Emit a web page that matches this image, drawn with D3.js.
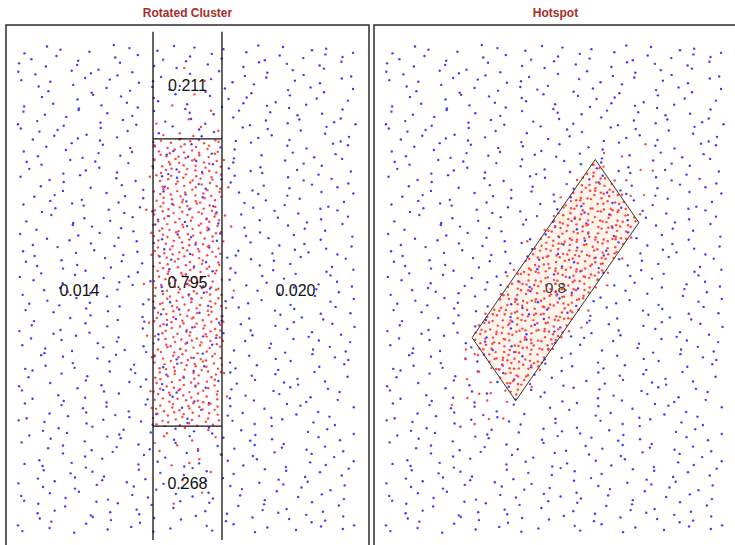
<!DOCTYPE html>
<html>
<head>
<meta charset="utf-8">
<script src="https://cdn.jsdelivr.net/npm/d3@7"></script>
<style>
body { margin: 0; background: #fff; }
</style>
</head>
<body>
<script>
const svgWidth = 735;
const svgHeight = 545;

const panelTitles = ['Rotated Cluster', 'Hotspot'];

// background points (x, y pairs, 0-1000 units), the same in both panels
const bluePoints = [
33,47, 45,36, 93,60, 120,42, 125,54, 188,33, 221,50, 239,63, 280,39, 289,57, 345,44, 369,52, 406,35, 408,61, 453,41, 482,58, 553,46, 568,37, 606,55, 627,49, 679,62, 686,34, 720,43, 780,59, 799,38, 842,53, 868,45, 879,56, 928,40, 959,47,
50,94, 87,70, 89,88, 134,75, 163,83, 234,66, 249,92, 287,72, 308,89, 360,77, 367,68, 401,86, 461,80, 480,93, 523,65, 549,74, 560,90, 609,69, 640,84, 707,76, 711,87, 750,71, 773,78, 827,67, 843,91, 873,73, 917,85, 929,64,
42,103, 102,120, 121,108, 164,99, 190,117, 201,111, 250,124, 281,96, 348,105, 352,121, 391,100, 414,115, 468,107, 484,118, 514,102, 558,109, 570,98, 618,122, 645,104, 650,116, 713,95, 746,112, 764,125, 805,101, 814,119, 870,106, 894,114, 931,97, 933,123,
34,127, 88,136, 104,152, 134,131, 178,146, 190,138, 238,149, 265,133, 270,140, 333,129, 366,153, 384,135, 425,147, 434,126, 490,143, 514,156, 551,132, 553,150, 598,137, 627,145, 698,128, 713,154, 751,134, 772,151, 824,139, 831,130, 865,148, 925,142, 944,155,
51,164, 92,171, 101,160, 157,184, 181,166, 218,178, 220,157, 265,174, 294,187, 365,163, 380,181, 418,168, 439,176, 491,159, 498,185, 532,165, 592,182, 611,170, 654,161, 680,179, 691,173, 740,186, 771,158, 838,167, 842,183, 881,162, 904,177, 958,169,
43,205, 64,218, 116,194, 123,212, 157,199, 217,207, 236,190, 279,216, 305,196, 316,213, 365,201, 396,192, 463,210, 467,204, 506,217, 529,189, 583,198, 599,214, 629,193, 673,208, 685,200, 733,211, 760,195, 765,202, 828,191, 861,215, 879,197, 920,209, 929,188,
35,247, 102,227, 106,244, 145,232, 168,223, 222,241, 238,235, 268,248, 312,220, 324,229, 372,245, 399,224, 404,239, 467,231, 500,242, 518,226, 559,233, 568,222, 624,246, 648,228, 685,240, 687,219, 732,236, 761,249, 832,225, 847,243, 885,230, 906,238, 958,221,
52,279, 57,251, 120,260, 153,276, 171,255, 212,270, 221,262, 277,273, 301,257, 338,264, 340,253, 385,277, 414,259, 485,271, 500,250, 538,267, 559,280, 611,256, 618,274, 652,261, 712,269, 731,252, 774,278, 800,258, 811,275, 860,263, 891,254, 958,272,
44,304, 73,288, 144,295, 159,284, 197,308, 218,290, 270,302, 277,281, 311,298, 371,311, 390,287, 433,305, 459,292, 470,300, 519,283, 550,309, 617,289, 621,306, 660,294, 683,285, 737,303, 753,297, 783,310, 827,282, 839,291, 887,307, 914,286, 919,301,
36,312, 62,329, 73,342, 122,318, 153,336, 220,323, 224,331, 263,314, 286,340, 340,320, 356,337, 386,325, 430,316, 442,334, 490,328, 517,341, 522,313, 585,322, 618,338, 636,317, 677,332, 686,324, 742,335, 766,319, 803,326, 805,315, 850,339, 879,321, 941,330,
53,345, 97,371, 109,351, 157,368, 184,356, 189,347, 252,365, 285,359, 303,372, 344,344, 353,353, 409,369, 433,348, 470,363, 472,355, 517,366, 546,350, 617,357, 632,346, 670,370, 691,352, 743,364, 750,343, 784,360, 844,373, 863,349, 906,367, 932,354, 943,362,
45,390, 69,403, 106,375, 108,384, 153,400, 182,379, 253,394, 268,386, 306,397, 327,381, 379,388, 386,377, 420,401, 480,383, 499,395, 542,374, 568,391, 579,404, 628,380, 659,398, 726,385, 730,393, 769,376, 792,402, 846,382, 862,399, 892,387, 936,378, 948,396,
37,417, 71,428, 131,412, 150,419, 193,408, 219,432, 230,414, 279,426, 310,405, 377,422, 381,435, 420,411, 443,429, 497,416, 513,424, 543,407, 587,433, 599,413, 647,430, 674,418, 679,409, 742,427, 775,421, 793,434, 834,406, 843,415, 899,431, 923,410, 960,425,
54,457, 77,436, 131,453, 147,466, 177,442, 221,460, 233,447, 281,455, 308,438, 313,464, 376,444, 409,461, 427,449, 468,440, 477,458, 533,452, 557,465, 594,437, 596,446, 641,462, 670,441, 741,456, 756,448, 794,459, 815,443, 867,450, 874,439, 908,463, 949,451,
46,486, 64,469, 105,495, 114,475, 170,492, 194,480, 231,471, 233,489, 278,483, 307,496, 378,468, 393,477, 431,493, 452,472, 504,487, 511,479, 545,490, 605,474, 624,481, 667,470, 693,494, 704,476, 753,488, 784,467, 851,484, 855,497, 894,473, 917,491, 958,478,
38,520, 76,514, 97,527, 149,499, 156,508, 190,524, 250,503, 269,518, 312,510, 338,521, 349,505, 398,512, 429,501, 496,525, 500,507, 539,519, 562,498, 616,515, 632,528, 662,504, 706,522, 718,509, 766,517, 793,500, 798,526, 861,506, 894,523, 912,511, 953,502,
55,549, 86,541, 153,552, 157,536, 196,543, 219,532, 273,556, 289,538, 319,550, 363,529, 375,546, 423,559, 450,535, 455,553, 518,540, 551,548, 569,531, 610,557, 619,537, 675,554, 699,542, 736,533, 738,551, 783,545, 812,558, 883,530, 898,539, 936,555, 957,534,
47,569, 74,581, 79,560, 142,577, 175,590, 193,566, 234,584, 243,571, 299,579, 323,562, 360,588, 362,568, 407,585, 436,573, 507,564, 522,582, 560,576, 581,589, 633,561, 640,570, 674,586, 734,565, 753,580, 796,572, 822,583, 833,567, 882,574, 913,563, 952,578,
39,602, 84,610, 113,593, 184,619, 199,599, 237,616, 258,604, 310,595, 317,613, 351,607, 411,620, 430,592, 473,601, 499,617, 510,596, 559,611, 590,603, 657,614, 661,598, 700,605, 723,594, 777,618, 793,600, 823,612, 867,591, 879,608, 927,621, 954,597,
56,626, 99,644, 125,638, 136,651, 185,623, 216,632, 283,648, 287,627, 326,642, 349,634, 403,645, 419,629, 449,636, 493,625, 505,649, 553,631, 580,643, 585,622, 648,639, 681,652, 699,628, 740,646, 749,633, 805,641, 829,624, 866,650, 868,630, 913,647, 942,635,
48,658, 78,673, 122,665, 134,676, 182,660, 209,667, 214,656, 277,680, 310,662, 328,674, 369,653, 378,670, 434,683, 458,659, 495,677, 497,664, 542,672, 571,655, 642,681, 657,661, 695,678, 716,666, 768,657, 775,675, 809,669, 869,682, 888,654, 931,663, 957,679,
40,711, 96,693, 120,705, 157,684, 159,701, 204,714, 233,690, 304,708, 319,695, 357,703, 378,686, 430,712, 437,692, 471,709, 531,697, 550,688, 593,706, 619,700, 630,713, 679,685, 710,694, 777,710, 781,689, 820,704, 843,696, 897,707, 913,691, 943,698,
57,739, 64,726, 98,734, 158,717, 177,743, 220,723, 246,740, 257,728, 306,719, 337,737, 404,731, 408,744, 447,716, 470,725, 524,741, 540,720, 570,735, 614,727, 626,738, 674,722, 701,729, 706,718, 769,742, 802,724, 820,736, 861,715, 870,732, 926,745, 950,721,
49,759, 88,750, 111,768, 165,762, 181,775, 211,747, 255,756, 267,772, 315,751, 342,766, 347,758, 410,769, 443,753, 461,760, 502,749, 511,773, 567,755, 591,767, 628,746, 630,763, 675,776, 704,752, 775,770, 790,757, 828,765, 849,748, 901,774, 908,754, 942,771,
41,803, 74,782, 92,797, 133,789, 142,800, 198,784, 222,791, 259,780, 261,804, 306,786, 335,798, 406,777, 421,794, 459,807, 480,783, 532,801, 539,788, 573,796, 633,779, 652,805, 695,785, 721,802, 732,790, 781,781, 812,799, 879,793, 883,806, 922,778, 945,787,
33,811, 48,835, 86,817, 107,829, 159,808, 166,825, 200,838, 260,814, 279,832, 322,819, 348,827, 359,810, 408,836, 439,816, 506,833, 510,821, 549,812, 572,830, 626,824, 642,837, 672,809, 716,818, 728,834, 776,813, 803,828, 808,820, 871,831, 904,815, 922,822, 963,811,
50,845, 99,863, 130,850, 197,858, 201,841, 240,867, 263,847, 317,864, 333,852, 363,843, 407,861, 419,855, 467,868, 494,840, 499,849, 562,865, 595,844, 613,859, 654,851, 663,862, 719,846, 743,853, 780,842, 782,866, 827,848, 856,860, 927,839, 942,856,
42,895, 90,883, 117,874, 122,892, 185,886, 218,899, 236,871, 277,880, 286,896, 342,875, 366,890, 403,882, 405,893, 450,877, 479,884, 550,873, 565,897, 603,879, 624,891, 676,870, 683,887, 717,900, 777,876, 796,894, 839,881, 865,889, 876,872, 925,898, 956,878,
34,911, 36,927, 81,906, 110,921, 181,913, 196,924, 234,908, 255,915, 307,904, 314,928, 348,910, 408,922, 427,901, 470,918, 496,931, 507,907, 556,925, 587,912, 654,920, 658,903, 697,929, 720,909, 774,926, 790,914, 820,905, 864,923, 876,917, 924,930, 951,902,
51,946, 70,935, 113,959, 139,941, 150,953, 199,932, 230,949, 297,962, 301,938, 340,956, 363,943, 417,951, 433,934, 463,960, 507,940, 519,957, 567,945, 594,936, 599,954, 662,948, 695,961, 713,933, 754,942, 763,958, 819,937, 843,952, 880,944, 882,955, 927,939, 956,947
];

// cluster points in the cluster's own frame: s along the box, t across; 200-800 is inside the box
const clusterPoints = [
217,200, 204,231, 226,239, 211,283, 200,302, 222,329, 208,332, 229,384, 214,398, 202,434, 219,456, 225,467, 206,514, 213,539, 228,545, 201,584, 221,601, 209,659, 216,679, 227,688, 203,721, 224,762, 212,774,
255,213, 236,227, 243,263, 258,285, 231,296, 251,343, 239,368, 246,374, 257,413, 233,430, 254,488, 242,508, 237,517, 248,550, 253,591, 240,603, 235,631, 250,636, 245,685, 247,701, 234,736, 256,760, 241,762,
272,206, 267,245, 278,262, 283,320, 270,340, 265,349, 280,382, 275,423, 277,435, 264,463, 286,468, 271,517, 260,533, 282,568, 268,592, 289,594, 274,637, 262,667, 279,680, 285,735, 266,756, 273,763,
301,219, 290,231, 312,259, 298,264, 319,313, 304,329, 292,364, 309,388, 315,390, 296,433, 303,463, 318,476, 291,531, 311,552, 299,559, 306,597, 317,623, 293,669, 314,679, 302,708, 297,739, 308,747, 313,791,
333,212, 348,214, 321,257, 341,287, 329,300, 336,355, 347,376, 323,383, 344,421, 332,447, 327,493, 338,503, 343,532, 330,563, 325,571, 340,615, 335,634, 337,661, 324,664, 346,716, 331,730, 320,766, 342,788, 328,799,
373,205, 360,243, 355,269, 370,315, 365,325, 367,354, 354,385, 376,393, 361,437, 350,456, 372,483, 358,486, 379,538, 364,552, 352,588, 369,610, 375,621, 356,668, 363,693, 378,699, 351,738, 371,755, 366,784,
388,218, 409,262, 394,281, 382,308, 399,311, 405,363, 386,377, 393,413, 408,435, 381,446, 401,493, 389,518, 396,524, 407,563, 383,580, 404,638, 392,658, 387,667, 398,700, 403,741, 390,753, 385,781, 400,786,
419,211, 426,233, 437,244, 413,291, 434,316, 422,322, 417,361, 428,378, 433,436, 420,456, 415,465, 430,498, 425,539, 427,551, 414,579, 436,584, 421,633, 410,649, 432,684, 418,708, 439,710, 424,753, 412,783, 429,796,
460,204, 455,262, 457,282, 444,291, 466,324, 451,365, 440,377, 462,405, 448,410, 469,459, 454,475, 442,510, 459,534, 465,536, 446,579, 453,609, 468,622, 441,677, 461,698, 449,705, 456,743, 467,769, 451,792,
472,217, 489,222, 495,271, 476,287, 483,322, 498,346, 471,348, 491,391, 479,421, 486,434, 497,489, 473,510, 494,517, 482,555, 477,581, 488,627, 493,637, 480,666, 475,697, 490,705, 485,749, 487,768, 474,795,
503,210, 524,240, 512,253, 507,308, 518,329, 523,336, 510,374, 505,400, 520,446, 515,456, 517,485, 504,516, 526,524, 511,568, 500,587, 522,614, 508,617, 529,669, 514,683, 502,719, 519,741, 525,752, 506,799,
534,203, 556,249, 541,259, 530,288, 552,319, 538,327, 559,371, 544,390, 532,417, 549,420, 555,472, 536,486, 543,522, 558,544, 531,555, 551,602, 539,627, 546,633, 557,672, 533,689, 554,747, 542,767, 537,776,
566,216, 573,243, 588,246, 561,298, 581,312, 569,348, 576,370, 587,381, 563,428, 584,453, 572,459, 567,498, 578,515, 583,573, 570,593, 565,602, 580,635, 575,676, 577,688, 564,716, 586,721, 571,770, 560,786,
597,209, 608,256, 613,281, 600,287, 595,326, 610,343, 605,401, 607,421, 594,430, 616,463, 601,504, 590,516, 612,544, 598,549, 619,598, 604,614, 592,649, 609,673, 615,675, 596,718, 603,748, 618,761, 605,792,
620,202, 642,211, 628,244, 649,285, 634,297, 622,325, 639,330, 645,379, 626,395, 633,430, 648,454, 621,456, 641,499, 629,529, 636,542, 647,597, 623,618, 644,625, 632,663, 627,689, 638,735, 643,745, 630,774,
651,215, 671,231, 659,266, 666,290, 677,292, 653,335, 674,365, 662,378, 657,433, 668,454, 673,461, 660,499, 655,525, 670,571, 665,581, 667,610, 654,641, 676,649, 661,693, 650,712, 672,739, 658,742, 679,794,
690,208, 685,263, 700,284, 695,291, 697,329, 684,355, 706,401, 691,411, 680,440, 702,471, 688,479, 709,523, 694,542, 682,569, 699,572, 705,624, 686,638, 693,674, 708,696, 681,707, 701,754, 689,779, 696,785,
739,201, 724,230, 712,261, 729,269, 735,313, 716,332, 723,359, 738,362, 711,414, 731,428, 719,464, 726,486, 737,497, 713,544, 734,569, 722,575, 717,614, 728,631, 733,689, 720,709, 715,718, 730,751, 725,792,
756,214, 767,266, 743,280, 764,316, 752,338, 747,349, 758,396, 763,421, 750,427, 745,466, 760,483, 755,541, 757,561, 744,570, 766,603, 751,644, 740,656, 762,684, 748,689, 769,738, 754,754, 742,789,
785,207, 787,213, 774,252, 796,269, 781,327, 770,347, 792,356, 778,389, 799,430, 784,442, 772,470, 789,475, 795,524, 776,540, 783,575, 798,599, 771,601, 791,644, 779,674, 786,687, 797,742, 773,763, 794,770,
185,322, 170,540, 192,681, 160,410, 148,257, 177,745, 131,603, 118,362, 196,478, 104,702, 152,592, 87,455, 165,214, 61,628, 140,799, 38,381, 179,296, 123,516,
812,433, 825,617, 808,290, 841,512, 859,705, 817,768, 870,368, 893,561, 832,229, 921,649, 806,551, 948,472,
273,178, 416,165, 558,187, 652,142, 344,191, 497,121, 721,172, 604,184, 389,148, 238,189,
311,818, 447,836, 586,812, 699,855, 378,809, 529,871, 640,826, 262,844, 756,817, 483,903, 418,812, 617,880
];

// left panel: share of cluster points in each cell
const cellLabels = ['0.211', '0.795', '0.268', '0.014', '0.020'];
const hotspotLabel = '0.8';
const hotspotLabelAt = [500, 499];

// cluster frames in data units: centre, half axis along, half axis across
const clusterFrames = [
    {c: [500, 509.5], a: [0, 273.5], b: [95, 0]},
    {c: [500, 514], a: [169.7, 169.7], b: [60.1, -60.1]}
];
// vertical extent of the band lines in the left panel
const bandExtent = [19, 987];

const panelLeft = [6, 374];
const panelTop = 25;
const panelW = 363;
const panelH = 525;
const fontFamily = 'Liberation Sans, Arial, sans-serif';

function pairs(flat) {
    return d3.range(0, flat.length, 2).map(i => [flat[i], flat[i + 1]]);
}

// cluster frame (s, t) -> data (x, y)
function toData(p, f) {
    const u = (p[0] - 500) / 300, v = (p[1] - 500) / 300;
    return [f.c[0] + u * f.a[0] + v * f.b[0], f.c[1] + u * f.a[1] + v * f.b[1]];
}

const svg = d3.select('body')
    .append('svg')
    .attr('width', svgWidth)
    .attr('height', svgHeight);

const blue = pairs(bluePoints);
const cluster = pairs(clusterPoints);

panelLeft.forEach((x0, k) => {
    const x = d3.scaleLinear().domain([0, 1000]).range([x0, x0 + panelW]);
    const y = d3.scaleLinear().domain([0, 1000]).range([panelTop + panelH, panelTop]);
    const f = clusterFrames[k];
    const g = svg.append('g');

    g.append('text')
        .attr('x', x0 + panelW / 2)
        .attr('y', 17)
        .attr('text-anchor', 'middle')
        .attr('font-family', fontFamily)
        .attr('font-size', 12)
        .attr('font-weight', 'bold')
        .attr('fill', '#a82c2c')
        .text(panelTitles[k]);

    // hotspot box fill goes under the points
    const corners = [[800, 200], [800, 800], [200, 800], [200, 200]].map(p => toData(p, f));
    if (k === 1) {
        g.append('polygon')
            .attr('points', corners.map(p => [x(p[0]), y(p[1])].join(',')).join(' '))
            .attr('fill', '#fdf4ec');
    }

    g.selectAll('.bpt')
        .data(blue)
        .enter()
        .append('circle')
        .attr('class', 'bpt')
        .attr('cx', d => x(d[0]))
        .attr('cy', d => y(d[1]))
        .attr('r', 1.2)
        .attr('fill', '#3c3cff');

    g.selectAll('.rpt')
        .data(cluster.map(p => toData(p, f)))
        .enter()
        .append('circle')
        .attr('class', 'rpt')
        .attr('cx', d => x(d[0]))
        .attr('cy', d => y(d[1]))
        .attr('r', 1.2)
        .attr('fill', '#ff4444');

    if (k === 0) {
        const xl = f.c[0] - f.b[0], xr = f.c[0] + f.b[0];
        const yb = f.c[1] - f.a[1], yt = f.c[1] + f.a[1];
        [xl, xr].forEach(v => {
            g.append('line')
                .attr('x1', x(v)).attr('x2', x(v))
                .attr('y1', y(bandExtent[0])).attr('y2', y(bandExtent[1]))
                .attr('stroke', '#111').attr('stroke-width', 1.3);
        });
        [yb, yt].forEach(v => {
            g.append('line')
                .attr('x1', x(xl)).attr('x2', x(xr))
                .attr('y1', y(v)).attr('y2', y(v))
                .attr('stroke', '#111').attr('stroke-width', 1.3);
        });
        const spots = [
            [f.c[0], (yt + bandExtent[1]) / 2],
            [f.c[0], f.c[1]],
            [f.c[0], (yb + bandExtent[0]) / 2],
            [xl / 2, 495],
            [(xr + 1000) / 2, 495]
        ];
        g.selectAll('.lab')
            .data(spots)
            .enter()
            .append('text')
            .attr('class', 'lab')
            .attr('x', d => x(d[0]))
            .attr('y', d => y(d[1]))
            .attr('dy', '0.35em')
            .attr('text-anchor', 'middle')
            .attr('font-family', fontFamily)
            .attr('font-size', 16)
            .attr('fill', '#111')
            .text((d, i) => cellLabels[i]);
    } else {
        g.append('polygon')
            .attr('points', corners.map(p => [x(p[0]), y(p[1])].join(',')).join(' '))
            .attr('fill', 'none')
            .attr('stroke', '#333')
            .attr('stroke-width', 1);
        g.append('text')
            .attr('x', x(hotspotLabelAt[0]))
            .attr('y', y(hotspotLabelAt[1]))
            .attr('dy', '0.35em')
            .attr('text-anchor', 'middle')
            .attr('font-family', fontFamily)
            .attr('font-size', 15)
            .attr('fill', '#333')
            .text(hotspotLabel);
    }

    // panel frame
    g.append('rect')
        .attr('x', x0)
        .attr('y', panelTop)
        .attr('width', panelW)
        .attr('height', panelH)
        .attr('fill', 'none')
        .attr('stroke', '#3a3a3a')
        .attr('stroke-width', 1.6);
});
</script>
</body>
</html>
